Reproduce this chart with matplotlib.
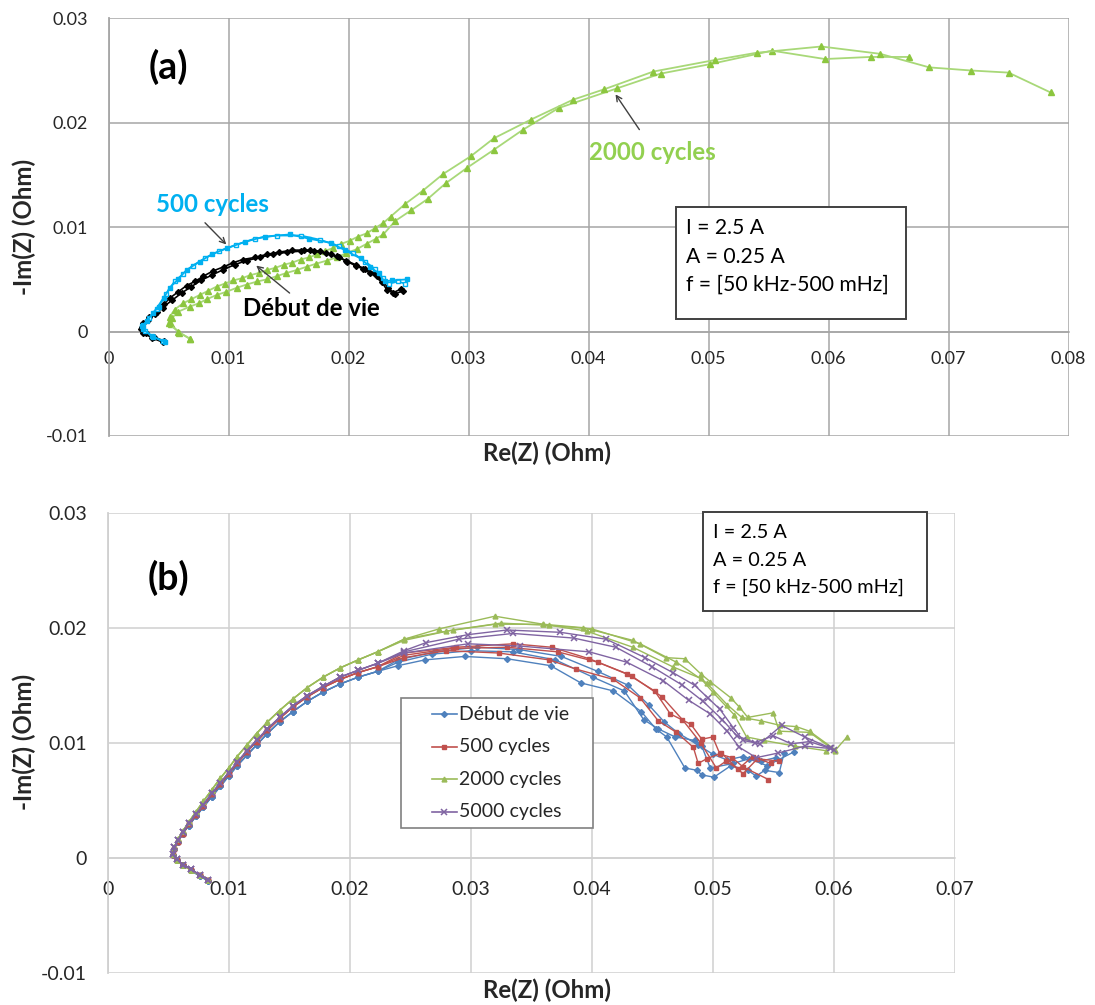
import matplotlib
matplotlib.use("Agg")
import matplotlib.pyplot as plt
from matplotlib.patches import Rectangle
from matplotlib.lines import Line2D

plt.rcParams['font.family'] = ['Lato', 'DejaVu Sans']

W, H = 1095, 1005

# ---------------- Panel (a) data ----------------
a_debut_x = [0.0046, 0.0038, 0.0031, 0.0027, 0.0029, 0.0034, 0.0040, 0.0046, 0.0051, 0.0058, 0.0065, 0.0072,
             0.0079, 0.0087, 0.0096, 0.0104, 0.0112, 0.0122, 0.0132, 0.0142, 0.0153, 0.0163, 0.0168, 0.0176,
             0.0185, 0.0192, 0.0199, 0.0206, 0.0212, 0.0218, 0.0224, 0.0228, 0.0232, 0.0237, 0.0244]
a_debut_y = [-0.0009, -0.0005, -0.0001, 0.0002, 0.0008, 0.0014, 0.0019, 0.0026, 0.0032, 0.0038, 0.0044, 0.0048,
             0.0053, 0.0058, 0.0062, 0.0066, 0.0069, 0.0071, 0.0074, 0.0076, 0.0078, 0.0078, 0.0078, 0.0077,
             0.0074, 0.0071, 0.0067, 0.0063, 0.0060, 0.0056, 0.0053, 0.0047, 0.0040, 0.0037, 0.0041]
a_debut2_x = [0.0045, 0.0036, 0.0029, 0.0028, 0.0033, 0.0039, 0.0045, 0.0053, 0.0061, 0.0069, 0.0077, 0.0086,
              0.0095, 0.0105, 0.0115, 0.0126, 0.0137, 0.0149, 0.0160, 0.0171, 0.0181, 0.0190, 0.0198, 0.0206,
              0.0214, 0.0221, 0.0227, 0.0233, 0.0239, 0.0245]
a_debut2_y = [-0.0010, -0.0006, -0.0001, 0.0004, 0.0011, 0.0017, 0.0023, 0.0030, 0.0037, 0.0043, 0.0049, 0.0054,
              0.0059, 0.0064, 0.0068, 0.0071, 0.0074, 0.0076, 0.0077, 0.0077, 0.0075, 0.0072, 0.0068, 0.0064,
              0.0060, 0.0056, 0.0050, 0.0042, 0.0036, 0.0039]

a_500_x = [0.0047, 0.0037, 0.0029, 0.0028, 0.0032, 0.0037, 0.0042, 0.0046, 0.0051, 0.0058, 0.0065, 0.0076,
           0.0086, 0.0099, 0.0114, 0.0130, 0.0151, 0.0167, 0.0185, 0.0197, 0.0210, 0.0218, 0.0225, 0.0230,
           0.0236, 0.0249]
a_500_y = [-0.0010, -0.0005, 0.0002, 0.0005, 0.0010, 0.0018, 0.0024, 0.0032, 0.0042, 0.0050, 0.0059, 0.0067,
           0.0074, 0.0080, 0.0086, 0.0091, 0.0093, 0.0089, 0.0085, 0.0078, 0.0070, 0.0062, 0.0056, 0.0048,
           0.0049, 0.0050]
a_500b_x = [0.0045, 0.0036, 0.0030, 0.0029, 0.0034, 0.0040, 0.0048, 0.0055, 0.0062, 0.0070, 0.0080, 0.0092,
            0.0106, 0.0122, 0.0140, 0.0160, 0.0176, 0.0192, 0.0204, 0.0214, 0.0222, 0.0229, 0.0234, 0.0241,
            0.0247]
a_500b_y = [-0.0009, -0.0004, 0.0001, 0.0006, 0.0013, 0.0022, 0.0036, 0.0048, 0.0055, 0.0063, 0.0070, 0.0077,
            0.0083, 0.0089, 0.0092, 0.0092, 0.0088, 0.0082, 0.0075, 0.0067, 0.0060, 0.0051, 0.0046, 0.0048,
            0.0046]

a_2000a_x = [0.0068, 0.0058, 0.0050, 0.0051, 0.0055, 0.0062, 0.0069, 0.0076, 0.0083, 0.0090, 0.0097, 0.0104,
             0.0111, 0.0118, 0.0125, 0.0132, 0.0139, 0.0146, 0.0153, 0.0160, 0.0167, 0.0174, 0.0180, 0.0187,
             0.0194, 0.0201, 0.0208, 0.0215, 0.0222, 0.0229, 0.0235, 0.0247, 0.0262, 0.0279, 0.0302, 0.0321,
             0.0352, 0.0387, 0.0413, 0.0454, 0.0505, 0.0540, 0.0594, 0.0643, 0.0684, 0.0719, 0.0750, 0.0785]
a_2000a_y = [-0.0007, 0.0000, 0.0008, 0.0014, 0.0021, 0.0027, 0.0031, 0.0035, 0.0039, 0.0043, 0.0046, 0.0049,
             0.0051, 0.0054, 0.0056, 0.0059, 0.0061, 0.0064, 0.0066, 0.0069, 0.0071, 0.0074, 0.0077, 0.0080,
             0.0084, 0.0087, 0.0091, 0.0094, 0.0099, 0.0104, 0.0110, 0.0122, 0.0135, 0.0151, 0.0168, 0.0185,
             0.0203, 0.0222, 0.0232, 0.0249, 0.0260, 0.0267, 0.0273, 0.0266, 0.0253, 0.0250, 0.0248, 0.0229]
a_2000b_x = [0.0068, 0.0059, 0.0052, 0.0053, 0.0058, 0.0068, 0.0075, 0.0082, 0.0090, 0.0098, 0.0107, 0.0115,
             0.0124, 0.0132, 0.0140, 0.0148, 0.0157, 0.0165, 0.0173, 0.0182, 0.0190, 0.0198, 0.0207, 0.0215,
             0.0223, 0.0229, 0.0239, 0.0252, 0.0266, 0.0281, 0.0299, 0.0321, 0.0345, 0.0375, 0.0424, 0.0460,
             0.0501, 0.0553, 0.0597, 0.0635, 0.0667]
a_2000b_y = [-0.0007, -0.0001, 0.0007, 0.0013, 0.0019, 0.0024, 0.0027, 0.0031, 0.0035, 0.0038, 0.0042, 0.0045,
             0.0048, 0.0050, 0.0053, 0.0056, 0.0059, 0.0062, 0.0065, 0.0068, 0.0071, 0.0075, 0.0079, 0.0084,
             0.0089, 0.0093, 0.0106, 0.0116, 0.0127, 0.0142, 0.0157, 0.0174, 0.0193, 0.0214, 0.0233, 0.0247,
             0.0256, 0.0269, 0.0261, 0.0263, 0.0263]

# ---------------- Panel (b) data ----------------
b_low_x = [0.0083, 0.0076, 0.0069, 0.0062, 0.0057, 0.0054, 0.0055, 0.0058, 0.0062, 0.0067, 0.0073, 0.0079,
           0.0086, 0.0093, 0.0100, 0.0107, 0.0115, 0.0123, 0.0132, 0.0142, 0.0153, 0.0165, 0.0178, 0.0192,
           0.0207, 0.0223]
b_debut_low_y = [-0.0020, -0.0016, -0.0011, -0.0006, -0.0002, 0.0002, 0.0008, 0.0014, 0.0021, 0.0028, 0.0036,
                 0.0044, 0.0053, 0.0062, 0.0071, 0.0080, 0.0089, 0.0098, 0.0108, 0.0118, 0.0127, 0.0136, 0.0144,
                 0.0151, 0.0157, 0.0162]
b_500_low_y = [-0.0019, -0.0015, -0.0011, -0.0006, -0.0002, 0.0002, 0.0008, 0.0014, 0.0021, 0.0029, 0.0037,
               0.0045, 0.0055, 0.0064, 0.0073, 0.0082, 0.0092, 0.0101, 0.0111, 0.0121, 0.0131, 0.0140, 0.0148,
               0.0155, 0.0161, 0.0166]
b_2000_low_y = [-0.0019, -0.0015, -0.0011, -0.0006, -0.0002, 0.0003, 0.0009, 0.0016, 0.0023, 0.0031, 0.0040,
                0.0049, 0.0059, 0.0069, 0.0078, 0.0088, 0.0098, 0.0108, 0.0118, 0.0128, 0.0138, 0.0148, 0.0157,
                0.0165, 0.0172, 0.0179]
b_5000_low_y = [-0.0019, -0.0015, -0.0010, -0.0006, -0.0001, 0.0003, 0.0009, 0.0015, 0.0022, 0.0030, 0.0038,
                0.0046, 0.0056, 0.0065, 0.0074, 0.0083, 0.0093, 0.0102, 0.0112, 0.0122, 0.0132, 0.0141, 0.0149,
                0.0157, 0.0163, 0.0169]

b_debut_sweeps = [
    ([0.0240, 0.0262, 0.0295, 0.0330, 0.0366, 0.0391, 0.0418, 0.0441, 0.0453, 0.0462, 0.0477, 0.0487, 0.0491,
      0.0501, 0.0515, 0.0529, 0.0536, 0.0543, 0.0555, 0.0559],
     [0.0167, 0.0172, 0.0175, 0.0173, 0.0167, 0.0152, 0.0145, 0.0127, 0.0112, 0.0105, 0.0078, 0.0076, 0.0072,
      0.0070, 0.0080, 0.0076, 0.0071, 0.0076, 0.0074, 0.0091]),
    ([0.0240, 0.0268, 0.0300, 0.0335, 0.0370, 0.0401, 0.0427, 0.0443, 0.0455, 0.0469, 0.0485, 0.0491, 0.0498,
      0.0517, 0.0530, 0.0545, 0.0567],
     [0.0170, 0.0177, 0.0180, 0.0179, 0.0172, 0.0157, 0.0145, 0.0120, 0.0112, 0.0105, 0.0102, 0.0097, 0.0078,
      0.0082, 0.0086, 0.0080, 0.0092]),
    ([0.0240, 0.0270, 0.0305, 0.0340, 0.0375, 0.0405, 0.0430, 0.0447, 0.0460, 0.0472, 0.0488, 0.0500, 0.0512,
      0.0525, 0.0540, 0.0552],
     [0.0172, 0.0179, 0.0183, 0.0181, 0.0175, 0.0162, 0.0150, 0.0133, 0.0118, 0.0108, 0.0098, 0.0090, 0.0085,
      0.0088, 0.0084, 0.0087]),
]
b_500_sweeps = [
    ([0.0245, 0.0288, 0.0335, 0.0367, 0.0398, 0.0429, 0.0452, 0.0465, 0.0482, 0.0491, 0.0500, 0.0506, 0.0516,
      0.0525, 0.0546],
     [0.0178, 0.0183, 0.0186, 0.0183, 0.0173, 0.0160, 0.0145, 0.0125, 0.0116, 0.0103, 0.0105, 0.0090, 0.0087,
      0.0079, 0.0068]),
    ([0.0245, 0.0280, 0.0323, 0.0365, 0.0387, 0.0418, 0.0440, 0.0455, 0.0470, 0.0484, 0.0488, 0.0495, 0.0507,
      0.0525, 0.0537, 0.0555],
     [0.0174, 0.0180, 0.0178, 0.0172, 0.0164, 0.0155, 0.0139, 0.0119, 0.0109, 0.0096, 0.0082, 0.0086, 0.0091,
      0.0073, 0.0086, 0.0084]),
    ([0.0245, 0.0285, 0.0330, 0.0372, 0.0405, 0.0433, 0.0458, 0.0475, 0.0490, 0.0503, 0.0511, 0.0521, 0.0533,
      0.0548],
     [0.0176, 0.0182, 0.0183, 0.0179, 0.0170, 0.0158, 0.0140, 0.0120, 0.0100, 0.0078, 0.0084, 0.0077, 0.0088,
      0.0082]),
]
b_2000_sweeps = [
    ([0.0245, 0.0274, 0.0320, 0.0360, 0.0393, 0.0434, 0.0461, 0.0477, 0.0490, 0.0498, 0.0515, 0.0522, 0.0529,
      0.0550, 0.0555, 0.0580, 0.0601, 0.0611],
     [0.0190, 0.0199, 0.0210, 0.0203, 0.0200, 0.0189, 0.0174, 0.0173, 0.0160, 0.0153, 0.0139, 0.0131, 0.0122,
      0.0126, 0.0110, 0.0109, 0.0093, 0.0105]),
    ([0.0245, 0.0280, 0.0320, 0.0360, 0.0396, 0.0434, 0.0467, 0.0490, 0.0500, 0.0518, 0.0528, 0.0542, 0.0568,
      0.0594],
     [0.0190, 0.0197, 0.0203, 0.0203, 0.0197, 0.0183, 0.0166, 0.0156, 0.0144, 0.0124, 0.0105, 0.0102, 0.0097,
      0.0093]),
    ([0.0245, 0.0285, 0.0325, 0.0365, 0.0400, 0.0440, 0.0470, 0.0495, 0.0512, 0.0524, 0.0540, 0.0556, 0.0569,
      0.0580, 0.0601],
     [0.0189, 0.0198, 0.0204, 0.0202, 0.0199, 0.0186, 0.0170, 0.0152, 0.0133, 0.0122, 0.0119, 0.0115, 0.0114,
      0.0110, 0.0094]),
]
b_5000_sweeps = [
    ([0.0245, 0.0263, 0.0298, 0.0330, 0.0374, 0.0412, 0.0444, 0.0467, 0.0485, 0.0496, 0.0506, 0.0517, 0.0525,
      0.0539, 0.0557, 0.0576, 0.0598],
     [0.0180, 0.0187, 0.0194, 0.0198, 0.0196, 0.0190, 0.0174, 0.0161, 0.0150, 0.0139, 0.0129, 0.0113, 0.0102,
      0.0099, 0.0115, 0.0105, 0.0095]),
    ([0.0245, 0.0298, 0.0341, 0.0398, 0.0429, 0.0459, 0.0480, 0.0498, 0.0512, 0.0522, 0.0536, 0.0554, 0.0576,
      0.0597],
     [0.0178, 0.0186, 0.0184, 0.0179, 0.0170, 0.0154, 0.0137, 0.0125, 0.0110, 0.0096, 0.0087, 0.0091, 0.0097,
      0.0095]),
    ([0.0245, 0.0290, 0.0335, 0.0385, 0.0420, 0.0450, 0.0475, 0.0492, 0.0508, 0.0520, 0.0535, 0.0550, 0.0565,
      0.0580, 0.0600],
     [0.0179, 0.0190, 0.0195, 0.0191, 0.0183, 0.0166, 0.0150, 0.0136, 0.0120, 0.0106, 0.0100, 0.0106, 0.0099,
      0.0101, 0.0094]),
]

b_labels = ['Début de vie', '500 cycles', '2000 cycles', '5000 cycles']
info_lines = ['I = 2.5 A', 'A = 0.25 A', 'f = [50 kHz-500 mHz]']
a_xticks = [0, 0.01, 0.02, 0.03, 0.04, 0.05, 0.06, 0.07, 0.08]
b_xticks = [0, 0.01, 0.02, 0.03, 0.04, 0.05, 0.06, 0.07]
yticks = [-0.01, 0, 0.01, 0.02, 0.03]


def fx(px):
    return px / W


def fy(py):
    return 1 - py / H


fig = plt.figure(figsize=(W / 100, H / 100), dpi=100)


def fmt(v):
    if v == 0:
        return '0'
    return ('%.2f' % v)


def style_axes(ax, xticks, gridcolor, fs, xpad, ypad):
    # spine position first: moving it resets the tick settings
    ax.spines['bottom'].set_position(('data', 0))
    for s in ['top', 'right']:
        ax.spines[s].set_visible(False)
    ax.spines['bottom'].set_color(gridcolor)
    ax.spines['bottom'].set_linewidth(1.1)
    ax.spines['left'].set_color(gridcolor)
    ax.spines['left'].set_linewidth(1.3)
    ax.set_yticks(yticks)
    ax.set_xticks(xticks)
    ax.set_xticklabels([fmt(v) for v in xticks])
    ax.set_yticklabels([fmt(v) for v in yticks])
    ax.tick_params(axis='both', labelsize=fs, labelcolor='#262626')
    ax.tick_params(axis='x', length=0, pad=xpad)
    ax.tick_params(axis='y', length=0, pad=ypad)
    ax.grid(True, color=gridcolor, linewidth=1.1)
    ax.set_axisbelow(True)


# ---------------- Panel (a) ----------------
axa = fig.add_axes([fx(108.5), fy(436.0), 960 / W, (436.0 - 18.3) / H])
axa.set_xlim(0, 0.08)
axa.set_ylim(-0.01, 0.03)
style_axes(axa, a_xticks, '#A6A6A6', 13, 14, 15)

g_line = '#A8D878'
g_mark = '#8CC63F'
axa.plot(a_2000b_x, a_2000b_y, color=g_line, lw=1.3, marker='^', ms=4.2, mfc=g_mark, mec=g_mark, zorder=3)
axa.plot(a_2000a_x, a_2000a_y, color=g_line, lw=1.3, marker='^', ms=4.2, mfc=g_mark, mec=g_mark, zorder=3)
axa.plot(a_debut2_x, a_debut2_y, color='black', lw=1.2, marker='D', ms=3.0, zorder=4)
axa.plot(a_debut_x, a_debut_y, color='black', lw=1.2, marker='D', ms=3.0, zorder=4)
axa.plot(a_500b_x, a_500b_y, color='#00B0F0', lw=1.3, marker='s', ms=3.3, mfc='white', mec='#00B0F0', zorder=5)
axa.plot(a_500_x, a_500_y, color='#00B0F0', lw=1.3, marker='s', ms=3.3, mfc='#00B0F0', mec='#00B0F0', zorder=5)

ann_fs = 17.3
axa.text(0.00863, 0.01217, '500 cycles', color='#00B0F0', fontsize=ann_fs, fontweight='bold', ha='center',
         va='center')
axa.annotate('', xy=(0.00998, 0.00815), xytext=(0.00788, 0.01061),
             arrowprops=dict(arrowstyle='->', color='#404040', lw=1.0))
axa.text(0.01692, 0.00218, 'Début de vie', color='black', fontsize=ann_fs, fontweight='bold', ha='center',
         va='center', zorder=6)
axa.annotate('', xy=(0.01213, 0.00649), xytext=(0.01527, 0.00352),
             arrowprops=dict(arrowstyle='->', color='#404040', lw=1.0))
axa.text(0.0453, 0.01713, '2000 cycles', color='#92D050', fontsize=ann_fs, fontweight='bold', ha='center',
         va='center')
axa.annotate('', xy=(0.04212, 0.02294), xytext=(0.04437, 0.01912),
             arrowprops=dict(arrowstyle='->', color='#404040', lw=1.0))

lab_fs = 17.3
fig.text(fx(168), fy(67), '(a)', fontsize=27, fontweight='bold', ha='center', va='center')
fig.text(fx(547), fy(453), 'Re(Z) (Ohm)', fontsize=lab_fs, fontweight='bold', ha='center', va='center',
         color='#262626')
fig.text(fx(24), fy(227), '-Im(Z) (Ohm)', fontsize=lab_fs, fontweight='bold', ha='center', va='center',
         rotation=90, color='#262626')

fig.add_artist(Rectangle((fx(676), fy(319)), (905.7 - 676) / W, (319 - 207.3) / H, transform=fig.transFigure,
                         facecolor='white', edgecolor='#404040', lw=1.4, zorder=10))
for t, yy in zip(info_lines, [228, 257, 285]):
    fig.text(fx(686), fy(yy), t, fontsize=15.2, ha='left', va='center', zorder=11)

# ---------------- Panel (b) ----------------
axb = fig.add_axes([fx(107.7), fy(972.7), 847 / W, 460 / H])
axb.set_xlim(0, 0.07)
axb.set_ylim(-0.01, 0.03)
style_axes(axb, b_xticks, '#D0D0D0', 14, 17, 15)

series_b = [
    (b_debut_low_y, b_debut_sweeps, '#4F81BD', 'D', 3.0, 1.0),
    (b_500_low_y, b_500_sweeps, '#C0504D', 's', 3.5, 1.0),
    (b_2000_low_y, b_2000_sweeps, '#9BBB59', '^', 3.5, 1.0),
    (b_5000_low_y, b_5000_sweeps, '#8064A2', 'x', 3.8, 1.1),
]
for low_y, sweeps, col, mk, ms, mew in series_b:
    for sx, sy in sweeps:
        axb.plot(b_low_x + sx, low_y + sy, color=col, lw=1.0, marker=mk, ms=ms, mfc=col, mec=col, mew=mew,
                 zorder=3)

# legend (frame and entries placed like the reference)
fig.add_artist(Rectangle((fx(400.7), fy(827.7)), (593.3 - 400.7) / W, (827.7 - 698.3) / H,
                         transform=fig.transFigure, facecolor='white', edgecolor='#808080', lw=1.2, zorder=8))
for (low_y, sweeps, col, mk, ms, mew), lab, yy in zip(series_b, b_labels, [714, 746.5, 779, 811.5]):
    fig.add_artist(Line2D([fx(431.7), fx(456.7)], [fy(yy), fy(yy)], transform=fig.transFigure, color=col,
                          lw=1.2, zorder=9))
    fig.add_artist(Line2D([fx(444.2)], [fy(yy)], transform=fig.transFigure, color=col, lw=0, marker=mk,
                          ms=ms, mfc=col, mec=col, mew=mew, zorder=9))
    fig.text(fx(459.3), fy(yy), lab, fontsize=14, ha='left', va='center', color='#262626', zorder=9)

fig.text(fx(168), fy(578), '(b)', fontsize=27, fontweight='bold', ha='center', va='center')
fig.text(fx(547), fy(990), 'Re(Z) (Ohm)', fontsize=lab_fs, fontweight='bold', ha='center', va='center',
         color='#262626')
fig.text(fx(24), fy(742), '-Im(Z) (Ohm)', fontsize=lab_fs, fontweight='bold', ha='center', va='center',
         rotation=90, color='#262626')

fig.add_artist(Rectangle((fx(703.3), fy(610.7)), (927 - 703.3) / W, (610.7 - 511.7) / H,
                         transform=fig.transFigure, facecolor='white', edgecolor='#404040', lw=1.4, zorder=10))
for t, yy in zip(info_lines, [532, 560, 587]):
    fig.text(fx(712.7), fy(yy), t, fontsize=14.3, ha='left', va='center', zorder=11)

fig.savefig('out.png', dpi=100)
